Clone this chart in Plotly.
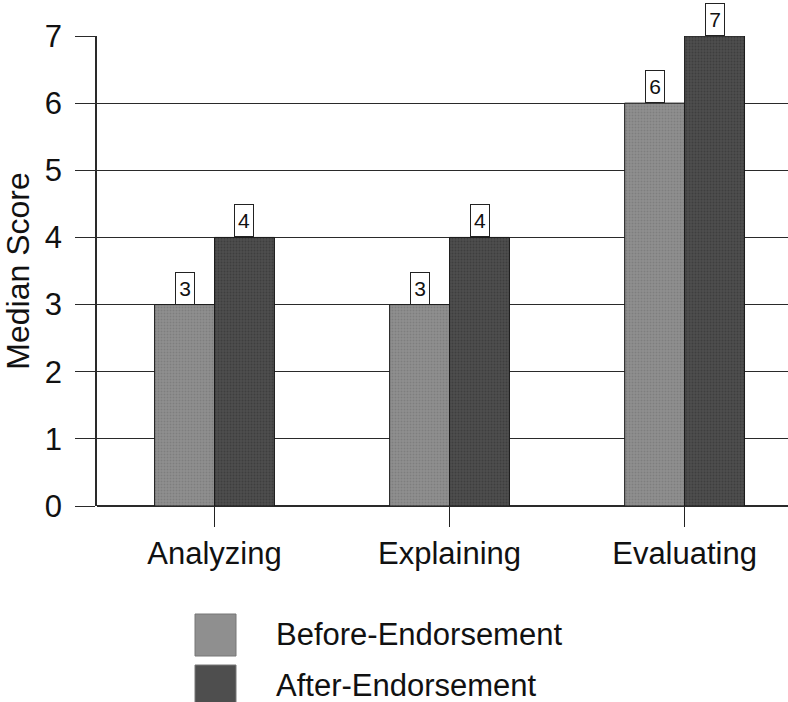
import plotly.graph_objects as go

# Median scores per reasoning skill
categories = ["Analyzing", "Explaining", "Evaluating"]
before_scores = [3, 3, 6]
after_scores = [4, 4, 7]
series_names = ["Before-Endorsement", "After-Endorsement"]
y_ticks = [0, 1, 2, 3, 4, 5, 6, 7]

FONT = "Liberation Sans, Arial, sans-serif"
BEFORE_COLOR = "#8f8f8f"
AFTER_COLOR = "#4e4e4e"
BARGAP = 0.49

fig = go.Figure()

fig.add_trace(go.Bar(
    x=categories, y=before_scores, name=series_names[0],
    marker=dict(color=BEFORE_COLOR, line=dict(color="#1a1a1a", width=1),
                pattern=dict(shape=".", fgcolor="#6e6e6e", size=3, solidity=0.35)),
    showlegend=False,
))
fig.add_trace(go.Bar(
    x=categories, y=after_scores, name=series_names[1],
    marker=dict(color=AFTER_COLOR, line=dict(color="#1a1a1a", width=1),
                pattern=dict(shape=".", fgcolor="#2e2e2e", size=3, solidity=0.35)),
    showlegend=False,
))

# Boxed value labels sitting on top of each bar
half = (1 - BARGAP) / 4
for i, (b, a) in enumerate(zip(before_scores, after_scores)):
    for xpos, val in ((i - half, b), (i + half, a)):
        fig.add_annotation(
            x=xpos, y=val, xref="x", yref="y", text=str(val),
            showarrow=False, yanchor="bottom", xanchor="center",
            font=dict(family=FONT, size=21, color="#111"),
            bgcolor="white", bordercolor="#222", borderwidth=1,
            borderpad=1, width=16, height=29,
        )

# Legend drawn below the plot with large swatches
legend_rows = [(series_names[0], BEFORE_COLOR, 0), (series_names[1], AFTER_COLOR, 1)]
for name, color, k in legend_rows:
    y0 = 614 + k * 51
    fig.add_shape(type="rect", xref="paper", yref="paper",
                  x0=(195 - 97) / 691, x1=(236 - 97) / 691,
                  y0=(506 - (y0 + 42)) / 470, y1=(506 - y0) / 470,
                  fillcolor=color, line=dict(color="#777", width=1))
    fig.add_annotation(xref="paper", yref="paper",
                       x=(274 - 97) / 691, y=(506 - (y0 + 20)) / 470,
                       xanchor="left", yanchor="middle", showarrow=False,
                       text=name, font=dict(family=FONT, size=31, color="#111"))

fig.update_layout(
    width=788, height=702,
    margin=dict(l=97, r=0, t=36, b=196),
    paper_bgcolor="white", plot_bgcolor="white",
    barmode="group", bargap=BARGAP, bargroupgap=0,
    font=dict(family=FONT, color="#111"),
)
fig.update_xaxes(
    range=[-0.5, 2.44], showgrid=False, showline=False,
    ticks="outside", ticklen=20, tickwidth=1, tickcolor="#222",
    tickfont=dict(family=FONT, size=31, color="#111"),
)
fig.update_yaxes(
    range=[0, 7], tickvals=y_ticks, showgrid=True, gridcolor="#2a2a2a", gridwidth=1,
    showline=True, linecolor="#2a2a2a", linewidth=1.5, zeroline=True, zerolinecolor="#2a2a2a",
    ticks="outside", ticklen=20, tickwidth=1, tickcolor="#2a2a2a",
    tickfont=dict(family=FONT, size=31, color="#111"), ticklabelstandoff=7,
    title=dict(text="Median Score", font=dict(family=FONT, size=32, color="#111"), standoff=8),
)

fig.write_html("out.html")
